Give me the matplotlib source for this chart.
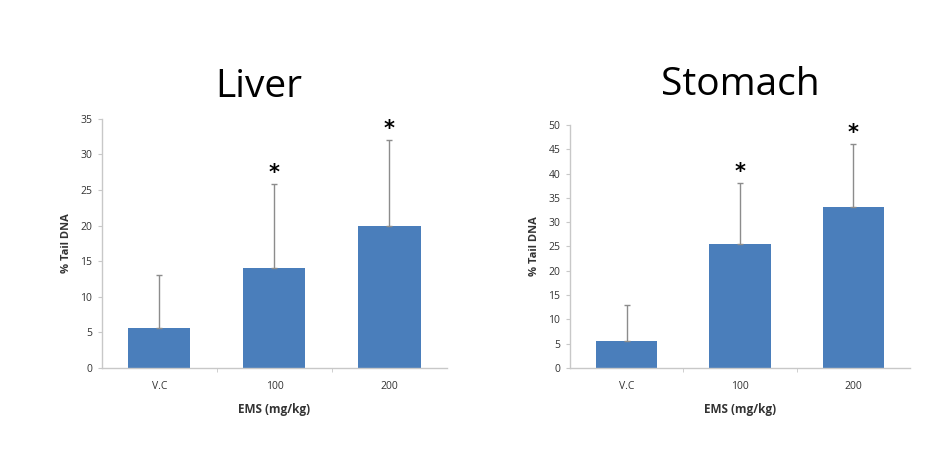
import numpy as np
import matplotlib.pyplot as plt

categories = ['V.C', '100', '200']
liver_mean = [5.6, 14.1, 20.0]
liver_err = [7.4, 11.7, 12.0]
stomach_mean = [5.5, 25.5, 33.2]
stomach_err = [7.5, 12.5, 12.8]
liver_ticks = [0, 5, 10, 15, 20, 25, 30, 35]
stomach_ticks = [0, 5, 10, 15, 20, 25, 30, 35, 40, 45, 50]

bar_color = '#4a7ebb'
grey = '#8c8c8c'

plt.rcParams['font.family'] = ['Open Sans', 'DejaVu Sans']

fig = plt.figure(figsize=(9.43, 4.58), dpi=100)


def panel(rect, title, means, errs, ticks, title_xy):
    ax = fig.add_axes(rect)
    x = np.arange(len(categories))
    ax.bar(x, means, width=0.54, color=bar_color, zorder=2)
    ax.errorbar(x, means, yerr=[np.zeros(len(errs)), errs], fmt='none',
                ecolor=grey, elinewidth=1, capsize=2, capthick=1, zorder=3)
    for xi, m, e in zip(x, means, errs):
        if xi > 0:
            ax.text(xi, m + e + ticks[-1] * 0.005, '*', ha='center', va='bottom',
                    fontsize=15, fontweight='bold', family='DejaVu Sans')
    ax.set_xlim(-0.5, len(categories) - 0.5)
    ax.set_ylim(0, ticks[-1])
    ax.set_yticks(ticks)
    ax.set_xticks(x)
    ax.set_xticklabels(categories)
    ax.set_xticks([0.5, 1.5], minor=True)
    ax.tick_params(axis='x', which='major', length=0, pad=9, labelsize=7.5, labelcolor='#333333')
    ax.tick_params(axis='x', which='minor', length=3, direction='out', color='#c8c8c8')
    ax.tick_params(axis='y', length=3, direction='out', color='#c8c8c8', labelsize=7.5,
                   labelcolor='#333333', pad=4)
    for s in ['top', 'right']:
        ax.spines[s].set_visible(False)
    for s in ['left', 'bottom']:
        ax.spines[s].set_color('#c8c8c8')
        ax.spines[s].set_linewidth(1)
    ax.set_ylabel('% Tail DNA', fontsize=8, fontweight='bold', color='#333333', labelpad=6)
    ax.set_xlabel('EMS (mg/kg)', fontsize=8.5, fontweight='bold', color='#333333', labelpad=8)
    fig.text(title_xy[0], title_xy[1], title, ha='center', va='baseline', fontsize=28)
    return ax


panel([0.108, 0.1965, 0.366, 0.544], 'Liver', liver_mean, liver_err, liver_ticks,
      (259 / 943, 1 - 97 / 458))
panel([0.6045, 0.1965, 0.3605, 0.5306], 'Stomach', stomach_mean, stomach_err, stomach_ticks,
      (740 / 943, 1 - 95 / 458))

fig.savefig('out.png', dpi=100)
